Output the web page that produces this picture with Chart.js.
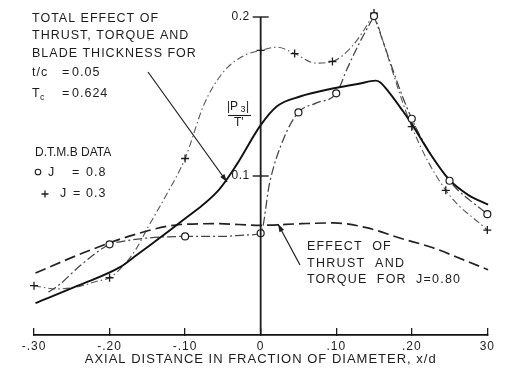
<!DOCTYPE html>
<html><head><meta charset="utf-8">
<script src="https://cdn.jsdelivr.net/npm/chart.js@4.4.0/dist/chart.umd.min.js"></script>
<style>html,body{margin:0;padding:0;background:#fff;}#wrap{width:505px;height:368px;}</style>
</head><body><div id="wrap"><canvas id="c" width="505" height="368"></canvas></div>
<script>
const xTickValues = [-0.3, -0.2, -0.1, 0, 0.1, 0.2, 0.3];
const xTickLabels = ['-.30', '-.20', '-.10', '0', '.10', '.20', '30'];
const yTickValues = [0.1, 0.2];
const yTickLabels = ['0.1', '0.2'];

// Total effect of thrust, torque and blade thickness (solid)
const totalX = [-0.298, -0.242, -0.185, -0.165, -0.106, -0.055, -0.032, 0, 0.022, 0.052, 0.095, 0.130, 0.152, 0.158, 0.171, 0.188, 0.201, 0.223, 0.249, 0.275, 0.301];
const totalY = [0.020, 0.031, 0.043, 0.050, 0.071, 0.0915, 0.107, 0.132, 0.144, 0.150, 0.155, 0.158, 0.160, 0.159, 0.152, 0.141, 0.132, 0.115, 0.098, 0.088, 0.082];

// Effect of thrust and torque for J = 0.80 (dashed)
const thrustX = [-0.298, -0.233, -0.168, -0.106, -0.058, 0, 0.054, 0.097, 0.140, 0.184, 0.227, 0.270, 0.301];
const thrustY = [0.039, 0.052, 0.063, 0.0695, 0.070, 0.069, 0.070, 0.0705, 0.0675, 0.061, 0.055, 0.047, 0.041];

// DTMB data J = 0.8 (faired curve + circles)
const j08CurveX = [-0.281, -0.268, -0.238, -0.2, -0.181, -0.15, -0.1, -0.05, -0.016, 0, 0.012, 0.03, 0.05, 0.074, 0.1, 0.115, 0.13, 0.15, 0.2, 0.25, 0.3];
const j08CurveY = [0.027, 0.031, 0.044, 0.057, 0.059, 0.061, 0.062, 0.062, 0.063, 0.064, 0.096, 0.123, 0.140, 0.146, 0.152, 0.168, 0.183, 0.2006, 0.136, 0.097, 0.076];
const j08PointX = [-0.2, -0.1, 0, 0.05, 0.1, 0.15, 0.2, 0.25, 0.3];
const j08PointY = [0.057, 0.062, 0.064, 0.140, 0.152, 0.2006, 0.136, 0.097, 0.076];

// DTMB data J = 0.3 (faired curve + crosses)
const j03CurveX = [-0.3, -0.272, -0.245, -0.215, -0.2, -0.183, -0.165, -0.15, -0.125, -0.1, -0.075, -0.05, -0.025, 0, 0.022, 0.045, 0.073, 0.095, 0.12, 0.137, 0.15, 0.2, 0.245, 0.3];
const j03CurveY = [0.031, 0.029, 0.030, 0.034, 0.036, 0.043, 0.054, 0.067, 0.088, 0.111, 0.145, 0.165, 0.175, 0.179, 0.181, 0.177, 0.171, 0.172, 0.181, 0.192, 0.2025, 0.131, 0.091, 0.066];
const j03PointX = [-0.3, -0.2, -0.1, 0, 0.045, 0.095, 0.15, 0.2, 0.245, 0.3];
const j03PointY = [0.031, 0.036, 0.111, 0.179, 0.177, 0.172, 0.2025, 0.131, 0.091, 0.066];

const pts = (xs, ys) => xs.map((x, i) => ({x: x, y: ys[i]}));
function splitAtPeak(xs, ys) {
  let k = 0;
  ys.forEach((v, i) => { if (v > ys[k]) k = i; });
  return [pts(xs.slice(0, k + 1), ys.slice(0, k + 1)), pts(xs.slice(k), ys.slice(k))];
}
const j08Parts = splitAtPeak(j08CurveX, j08CurveY);
const j03Parts = splitAtPeak(j03CurveX, j03CurveY);

const INK = '#1c1c1c';
const FONT = '"Liberation Sans", Arial, sans-serif';
Chart.defaults.font.family = FONT;

const lineBase = {showLine: true, pointRadius: 0, cubicInterpolationMode: 'monotone', clip: false, fill: false};
const dashDot08 = Object.assign({}, lineBase, {borderColor: '#444', borderWidth: 1.25, borderDash: [9, 3, 2, 3]});
const dashDot03 = Object.assign({}, lineBase, {borderColor: '#555', borderWidth: 1.1, borderDash: [7, 3, 1.5, 3]});

function text(ctx, s, x, y, size, align, ls) {
  ctx.font = size + 'px ' + FONT;
  ctx.letterSpacing = (ls === undefined ? 1 : ls) + 'px';
  ctx.textAlign = align || 'left';
  ctx.textBaseline = 'middle';
  ctx.fillStyle = INK;
  ctx.fillText(s, x, y);
}
function arrow(ctx, x1, y1, x2, y2) {
  ctx.beginPath(); ctx.moveTo(x1, y1); ctx.lineTo(x2, y2); ctx.stroke();
  const a = Math.atan2(y2 - y1, x2 - x1), L = 8, W = 2.6;
  ctx.beginPath();
  ctx.moveTo(x2, y2);
  ctx.lineTo(x2 - L * Math.cos(a) + W * Math.sin(a), y2 - L * Math.sin(a) - W * Math.cos(a));
  ctx.lineTo(x2 - L * Math.cos(a) - W * Math.sin(a), y2 - L * Math.sin(a) + W * Math.cos(a));
  ctx.closePath(); ctx.fill();
}

const overlay = {
  id: 'overlay',
  beforeDraw(chart) { chart.ctx.letterSpacing = '1px'; },
  afterDraw(chart) {
    const ctx = chart.ctx, xs = chart.scales.x, ys = chart.scales.y;
    ctx.save();
    ctx.strokeStyle = INK; ctx.fillStyle = INK;
    // vertical axis at x = 0
    const x0 = xs.getPixelForValue(0);
    ctx.lineWidth = 1.8;
    ctx.beginPath();
    ctx.moveTo(x0, ys.getPixelForValue(0));
    ctx.lineTo(x0, ys.getPixelForValue(yTickValues[yTickValues.length - 1]));
    ctx.stroke();
    ctx.lineWidth = 1.4;
    yTickValues.forEach((v, i) => {
      const py = ys.getPixelForValue(v);
      ctx.beginPath(); ctx.moveTo(x0 - 8, py); ctx.lineTo(x0 + 8, py); ctx.stroke();
      text(ctx, yTickLabels[i], x0 - 11, py, 12, 'right', 0.5);
    });
    // y quantity label |P3| / T'
    text(ctx, '|P', 227, 107, 12, 'left', 0);
    text(ctx, '3', 240.5, 110, 9, 'left', 0);
    text(ctx, '|', 246, 107, 12, 'left', 0);
    ctx.lineWidth = 1.1;
    ctx.beginPath(); ctx.moveTo(228, 115.5); ctx.lineTo(251, 115.5); ctx.stroke();
    text(ctx, "T'", 234, 123, 12, 'left', 0);

    // top-left annotation
    text(ctx, 'TOTAL EFFECT OF', 32, 19, 12.5);
    text(ctx, 'THRUST, TORQUE AND', 32, 36, 12.5);
    text(ctx, 'BLADE THICKNESS FOR', 32, 54, 12.5);
    text(ctx, 't/c', 32, 73, 12.5);
    text(ctx, '=', 62, 73, 12.5);
    text(ctx, '0.05', 72, 73, 12.5);
    text(ctx, 'T', 32, 94, 12.5);
    text(ctx, 'c', 40, 98, 9);
    text(ctx, '=', 62, 94, 12.5);
    text(ctx, '0.624', 72, 94, 12.5);

    text(ctx, 'D.T.M.B DATA', 35, 153, 12, 'left', 0);
    ctx.lineWidth = 1.1;
    ctx.beginPath(); ctx.arc(38, 172, 2.8, 0, Math.PI * 2); ctx.stroke();
    text(ctx, 'J', 48, 173, 12.5);
    text(ctx, '=', 72, 173, 12.5);
    text(ctx, '0.8', 86, 173, 12.5);
    ctx.lineWidth = 1.3;
    ctx.beginPath(); ctx.moveTo(41.5, 194); ctx.lineTo(48.5, 194); ctx.moveTo(45, 190.5); ctx.lineTo(45, 197.5); ctx.stroke();
    text(ctx, 'J', 60, 194, 12.5);
    text(ctx, '=', 73, 194, 12.5);
    text(ctx, '0.3', 86, 194, 12.5);

    // lower-right annotation
    text(ctx, 'EFFECT  OF', 307, 247, 12.5, 'left', 1.2);
    text(ctx, 'THRUST  AND', 307, 264, 12.5, 'left', 1.3);
    text(ctx, 'TORQUE  FOR  J=0.80', 307, 280, 12.5, 'left', 1.2);

    // leader arrows
    ctx.lineWidth = 1.2;
    arrow(ctx, 148, 72, 227, 182);
    arrow(ctx, 300, 265, 278, 224);
    ctx.restore();
  }
};

new Chart(document.getElementById('c'), {
  type: 'scatter',
  data: {
    datasets: [
      {label: 'J = 0.8 data', data: pts(j08PointX, j08PointY), showLine: false, pointStyle: 'circle', pointRadius: 3.5, pointBorderWidth: 1.2, pointBorderColor: INK, pointBackgroundColor: '#fff', clip: false},
      {label: 'J = 0.3 data', data: pts(j03PointX, j03PointY), showLine: false, pointStyle: 'cross', pointRadius: 4, pointBorderWidth: 1.3, pointBorderColor: INK, clip: false},
      Object.assign({}, lineBase, {label: 'Total effect', data: pts(totalX, totalY), borderColor: '#111', borderWidth: 1.9}),
      Object.assign({}, lineBase, {label: 'Thrust and torque', data: pts(thrustX, thrustY), borderColor: '#222', borderWidth: 1.7, borderDash: [11, 5]}),
      Object.assign({}, dashDot08, {label: 'J = 0.8 up', data: j08Parts[0]}),
      Object.assign({}, dashDot08, {label: 'J = 0.8 down', data: j08Parts[1]}),
      Object.assign({}, dashDot03, {label: 'J = 0.3 up', data: j03Parts[0]}),
      Object.assign({}, dashDot03, {label: 'J = 0.3 down', data: j03Parts[1]})
    ]
  },
  options: {
    responsive: false,
    animation: false,
    devicePixelRatio: 1,
    layout: {padding: {left: 34, right: 8, top: 17, bottom: 1}},
    plugins: {legend: {display: false}, tooltip: {enabled: false}},
    scales: {
      x: {
        type: 'linear', min: -0.3, max: 0.3,
        afterBuildTicks: (s) => { s.ticks = xTickValues.map(v => ({value: v})); },
        ticks: {callback: (v, i) => xTickLabels[i], color: INK, font: {size: 12}, padding: 11, maxRotation: 0, autoSkip: false},
        grid: {display: true, drawOnChartArea: false, drawTicks: true, tickLength: -7, color: INK, lineWidth: 1.3},
        border: {display: true, color: '#111', width: 1.8},
        title: {display: true, text: 'AXIAL DISTANCE IN FRACTION OF DIAMETER, x/d', color: INK, font: {size: 13}, padding: {top: -13, bottom: 0}}
      },
      y: {display: false, min: 0, max: 0.2}
    }
  },
  plugins: [overlay]
});
</script>
</body></html>
